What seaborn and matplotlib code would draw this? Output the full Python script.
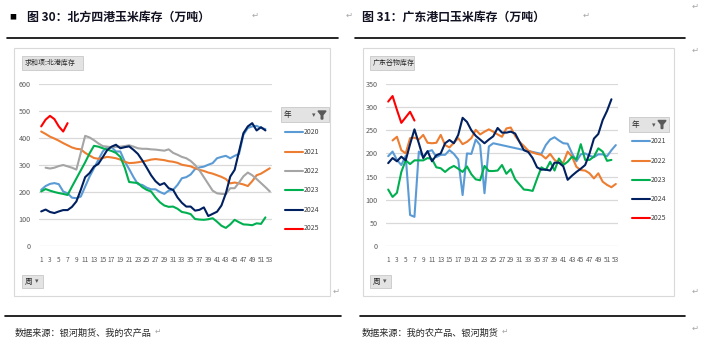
import matplotlib
matplotlib.use("Agg")
import matplotlib.pyplot as plt
import seaborn as sns
import pandas as pd
import numpy as np
from matplotlib.patches import Rectangle, Polygon
from matplotlib.lines import Line2D

sns.set_theme(style="white")
plt.rcParams["font.family"] = ["Noto Sans CJK SC", "DejaVu Sans"]
plt.rcParams["axes.unicode_minus"] = False

# ========== 图30 北方四港玉米库存（万吨），按周 ==========
north_2020 = [208, 222, 230, 233, 229, 202, 195, 179, 177, 183, 220, 257, 288, 319, 350, 366, 366, 350,
              350, 313, 285, 255, 229, 226, 216, 210, 210, 200, 193, 205, 208, 226, 251, 255, 265, 285,
              291, 294, 301, 307, 325, 330, 334, 325, 334, 341, 412, 437, 443, 445, 437, 433]
north_2021 = [424, 415, 405, 398, 390, 381, 373, 365, 360, 358, 345, 335, 326, 323, 326, 330, 328, 325,
              320, 312, 307, 308, 310, 313, 316, 320, 322, 320, 318, 314, 312, 308, 301, 298, 295, 288,
              282, 278, 272, 268, 262, 256, 248, 232, 235, 232, 228, 222, 240, 262, 268, 278, 288]
north_2022 = [290, 287, 290, 296, 300, 295, 290, 283, 345, 408, 402, 392, 380, 370, 368, 366, 367, 368,
              370, 373, 368, 362, 360, 360, 358, 357, 355, 353, 358, 345, 338, 330, 325, 315, 300, 280,
              255, 230, 205, 195, 193, 192, 214, 214, 235, 258, 272, 262, 248, 233, 218, 202]  # 从第2周开始
north_2023 = [202, 211, 205, 200, 196, 193, 189, 220, 250, 280, 310, 343, 371, 368, 362, 357, 352, 345,
              330, 290, 237, 235, 233, 218, 208, 202, 180, 162, 150, 145, 146, 138, 126, 123, 118, 100,
              98, 97, 99, 103, 90, 75, 67, 80, 97, 88, 80, 79, 77, 84, 82, 106]
north_2024 = [128, 135, 126, 122, 128, 133, 133, 145, 165, 208, 255, 270, 294, 304, 329, 355, 368, 375,
              362, 366, 369, 356, 341, 317, 290, 262, 240, 226, 233, 214, 208, 180, 160, 146, 146, 131,
              134, 143, 111, 119, 127, 150, 195, 257, 282, 350, 418, 443, 455, 428, 440, 428]
north_2025 = [443, 468, 482, 470, 443, 424, 455]

# ========== 图31 广东港口玉米库存（万吨），按周 ==========
nan = np.nan
gd_2021 = [194, 204, 186, 175, 195, 67, 63, 204, 193, 204, 207, 192, 197, 197, 207, 199, 187, 110,
           200, 199, 230, 218, 114, 215, 222, nan, nan, nan, nan, nan, nan, nan, nan, nan, nan, 199,
           218, 230, 235, 228, 222, 221, 200, 183, 198, 200, 195, 192, 198, 198, 194, 207, 218]
gd_2022 = [228, 236, 207, 200, 233, 234, 230, 240, 223, 222, 223, 240, 218, 213, 223, 233, 220, 225,
           233, 251, 241, 247, 252, 247, 241, 236, 254, 256, 238, 225, 216, 206, 202, 199, 197, 189,
           199, 186, 180, 180, 204, 193, 171, 164, 163, 157, 146, 157, 139, 132, 127, 134]  # 从第2周开始
gd_2023 = [122, 106, 115, 160, 185, 177, 185, 185, 185, 190, 188, 170, 168, 160, 168, 173, 167, 160,
           172, 155, 144, 142, 173, 162, 162, 163, 175, 156, 166, 144, 133, 122, 121, 119, 145, 170,
           164, 182, 163, 189, 175, 182, 193, 187, 220, 186, 186, 193, 211, 204, 184, 186]
gd_2024 = [179, 190, 183, 193, 185, 220, 252, 222, 190, 205, 183, 196, 200, 222, 229, 222, 240, 277,
           268, 250, 238, 230, 222, 230, 237, 255, 245, 245, 247, 243, 225, 207, 203, 190, 170, 165,
           165, 163, 180, 180, 172, 143, 152, 160, 167, 175, 200, 232, 242, 272, 292, 317]
gd_2025 = [312, 324, 294, 266, 278, 290, 271]

north_series = [("2020", north_2020, 1), ("2021", north_2021, 1), ("2022", north_2022, 2),
                ("2023", north_2023, 1), ("2024", north_2024, 1), ("2025", north_2025, 1)]
gd_series = [("2021", gd_2021, 1), ("2022", gd_2022, 2), ("2023", gd_2023, 1),
             ("2024", gd_2024, 1), ("2025", gd_2025, 1)]

north_colors = {"2020": "#5B9BD5", "2021": "#ED7D31", "2022": "#A5A5A5",
                "2023": "#00B050", "2024": "#002060", "2025": "#FF0000"}
gd_colors = {"2021": "#5B9BD5", "2022": "#ED7D31", "2023": "#00B050",
             "2024": "#002060", "2025": "#FF0000"}

W, H = 706, 360
fig = plt.figure(figsize=(W / 100, H / 100), dpi=100)


def fx(x):
    return x / W


def fy(y):
    return 1 - y / H


def box(x0, y0, x1, y1, fc="none", ec="#d9d9d9", lw=0.8):
    fig.add_artist(Rectangle((fx(x0), fy(y1)), (x1 - x0) / W, (y1 - y0) / H, transform=fig.transFigure,
                             facecolor=fc, edgecolor=ec, linewidth=lw))


def hline(x0, x1, y, color="black", lw=1.2):
    fig.add_artist(Line2D([fx(x0), fx(x1)], [fy(y), fy(y)], transform=fig.transFigure, color=color, lw=lw))


def txt(x, y, s, **kw):
    fig.text(fx(x), fy(y), s, va="center", **kw)


def to_long(series):
    rows = []
    for year, vals, start in series:
        for i, v in enumerate(vals):
            rows.append({"年": year, "周": start + i, "库存": v})
    return pd.DataFrame(rows).dropna()


def draw_panel(ax, series, colors, ymax, ystep):
    df = to_long(series)
    sns.lineplot(data=df, x="周", y="库存", hue="年", palette=colors, estimator=None,
                 legend=False, linewidth=1.5, ax=ax)
    ax.set_xlim(0.5, 53.5)
    ax.set_ylim(0, ymax)
    ax.set_xticks(range(1, 54, 2))
    ax.set_yticks(range(0, ymax + 1, ystep))
    ax.set_facecolor("none")
    ax.grid(axis="y", color="#d9d9d9", lw=0.9)
    ax.grid(axis="x", visible=False)
    ax.set_axisbelow(True)
    sns.despine(ax=ax, left=True, bottom=True)
    ax.tick_params(axis="y", length=0, labelsize=5.2, colors="#595959", pad=6)
    ax.tick_params(axis="x", length=0, labelsize=4.7, colors="#595959", pad=7)
    ax.set_xlabel("")
    ax.set_ylabel("")


def legend(x_line, ys, colors):
    for y, (year, c) in zip(ys, colors.items()):
        fig.add_artist(Line2D([fx(x_line), fx(x_line + 18)], [fy(y), fy(y)], transform=fig.transFigure,
                              color=c, lw=1.5))
        txt(x_line + 19, y, year, fontsize=5, color="#404040")


def header(x0, y0, x1, y1, label, fs=5.5):
    box(x0, y0, x1, y1, fc="#e3e3e3", ec="#c8c8c8", lw=0.6)
    txt(x0 + 3, (y0 + y1) / 2, label, fontsize=fs, color="#262626")


def funnel(x, y):
    fig.add_artist(Polygon([(fx(x), fy(y)), (fx(x + 8), fy(y)), (fx(x + 4.8), fy(y + 4)),
                            (fx(x + 4.8), fy(y + 8)), (fx(x + 3.2), fy(y + 8)), (fx(x + 3.2), fy(y + 4))],
                           closed=True, transform=fig.transFigure, color="#595959"))


# 标题栏
txt(9, 17, "■", fontsize=5, color="black")
txt(27, 17, "图 30：北方四港玉米库存（万吨）", fontsize=8.6, fontweight="bold", color="#111122")
txt(362, 17, "图 31：广东港口玉米库存（万吨）", fontsize=8.6, fontweight="bold", color="#111122")
for x, y in [(252, 15), (346, 15), (583, 15), (692, 6), (692, 50), (333, 291), (692, 291), (692, 328)]:
    txt(x, y, "↵", fontsize=6, color="#a6a6a6")
hline(7, 338, 38)
hline(355, 685, 38)
hline(5, 341, 316)
hline(360, 685, 316)

# 图表外框
box(14, 48, 330, 296)
box(363, 48, 674, 296)

# 左图
ax1 = fig.add_axes([fx(39), fy(246), (272 - 39) / W, (246 - 84) / H])
draw_panel(ax1, north_series, north_colors, 600, 100)
header(22, 56, 83, 70, "求和项:北港库存", fs=5)
header(281, 107, 329, 122, "年")
txt(312, 115, "▾", fontsize=5, color="#595959")
funnel(318, 111)
legend(285, [132, 151.5, 171, 190, 209.5, 228.5], north_colors)
header(22, 275, 43, 288, "周")
txt(35, 281.5, "▾", fontsize=5, color="#595959")

# 右图
ax2 = fig.add_axes([fx(386), fy(246), (618 - 386) / W, (246 - 84) / H])
draw_panel(ax2, gd_series, gd_colors, 350, 50)
header(370, 56, 414, 70, "广东谷物库存", fs=5)
header(629, 117, 669, 132, "年")
txt(652, 125, "▾", fontsize=5, color="#595959")
funnel(658, 120.5)
legend(632, [141.5, 161, 180, 199.3, 218.3], gd_colors)
header(370, 275, 391, 288, "周")
txt(383, 281.5, "▾", fontsize=5, color="#595959")

# 数据来源
txt(15, 333, "数据来源：银河期货、我的农产品", fontsize=6.6, color="#262626")
txt(362, 333, "数据来源：我的农产品、银河期货", fontsize=6.6, color="#262626")
txt(155, 332, "↵", fontsize=5.5, color="#a6a6a6")
txt(502, 332, "↵", fontsize=5.5, color="#a6a6a6")

fig.savefig("out.png", dpi=100)
